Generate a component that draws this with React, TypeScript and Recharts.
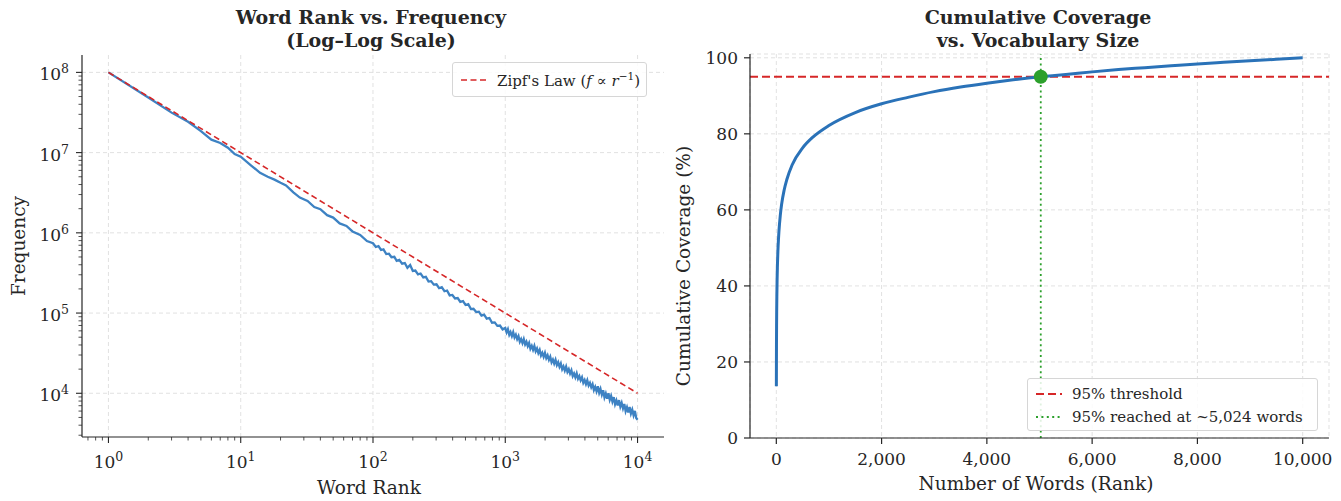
import React from "react";
import { LineChart, Line, XAxis, YAxis, CartesianGrid, ReferenceLine, ReferenceDot } from "recharts";

const FONT = "'DejaVu Serif', serif";
const INK = "#262626";
const GRID = "#dedede";

const wordRanks = [
  1, 2, 3, 4, 5, 6, 7, 8, 9, 10, 12, 14, 16, 18, 20, 22, 25, 28, 32, 36, 40, 45, 50, 56, 63, 70, 80, 90,
  100, 105, 110, 115, 120, 126, 132, 138, 145, 151, 158, 166, 174, 182, 191, 200, 209, 219, 229, 240,
  251, 263, 275, 288, 302, 316, 331, 347, 363, 380, 398, 417, 437, 457, 479, 501, 525, 550, 575, 603,
  631, 661, 692, 724, 759, 794, 832, 871, 912, 955,
  1000, 1023, 1047, 1072, 1096, 1122, 1148, 1175, 1202, 1230, 1259, 1288, 1318, 1349, 1380, 1413, 1445,
  1479, 1514, 1549, 1585, 1622, 1660, 1698, 1738, 1778, 1820, 1862, 1905, 1950, 1995, 2042, 2089, 2138,
  2188, 2239, 2291, 2344, 2399, 2455, 2512, 2570, 2630, 2692, 2754, 2818, 2884, 2951, 3020, 3090, 3162,
  3236, 3311, 3388, 3467, 3548, 3631, 3715, 3802, 3890, 3981, 4074, 4169, 4266, 4365, 4467, 4571, 4677,
  4786, 4898, 5012, 5129, 5248, 5370, 5495, 5623, 5754, 5888, 6026, 6166, 6310, 6457, 6607, 6761, 6918,
  7079, 7244, 7413, 7586, 7762, 7943, 8128, 8318, 8511, 8710, 8913, 9120, 9333, 9550, 9772, 10000,
];
const observedFreq = [
  1.0e8, 4.85e7, 3.15e7, 2.42e7, 1.85e7, 1.45e7, 1.32e7, 1.15e7, 9.6e6, 8.9e6, 6.9e6, 5.6e6, 5.0e6, 4.6e6,
  4.2e6, 3.9e6, 3.2e6, 2.75e6, 2.5e6, 2.1e6, 1.97e6, 1.66e6, 1.55e6, 1.31e6, 1.22e6, 1.04e6, 9.4e5, 7.9e5,
  7.41e5, 6.66e5, 6.84e5, 6.11e5, 6.23e5, 5.43e5, 5.49e5, 4.97e5, 5.02e5, 4.49e5, 4.61e5, 4.12e5, 4.2e5,
  3.66e5, 3.98e5, 3.35e5, 3.39e5, 3.03e5, 3.11e5, 2.78e5, 2.83e5, 2.47e5, 2.5e5, 2.26e5, 2.28e5, 2.04e5,
  2.1e5, 1.87e5, 1.91e5, 1.66e5, 1.68e5, 1.52e5, 1.54e5, 1.38e5, 1.41e5, 1.26e5, 1.29e5, 1.12e5, 1.13e5,
  1.03e5, 1.04e5, 9.28e4, 9.53e4, 8.51e4, 8.68e4, 7.57e4, 7.65e4, 6.92e4, 6.99e4, 6.26e4,
  6.53e4, 5.74e4, 6.29e4, 5.35e4, 5.78e4, 5.15e4, 5.77e4, 4.96e4, 5.36e4, 4.72e4, 5.16e4, 4.39e4, 4.75e4,
  4.23e4, 4.73e4, 4.07e4, 4.4e4, 3.87e4, 4.24e4, 3.6e4, 3.9e4, 3.47e4, 3.89e4, 3.34e4, 3.62e4, 3.18e4,
  3.48e4, 2.96e4, 3.2e4, 2.85e4, 3.19e4, 2.74e4, 2.97e4, 2.61e4, 2.86e4, 2.43e4, 2.63e4, 2.34e4, 2.62e4,
  2.25e4, 2.44e4, 2.14e4, 2.35e4, 1.99e4, 2.16e4, 1.92e4, 2.15e4, 1.85e4, 2.0e4, 1.76e4, 1.93e4, 1.64e4,
  1.77e4, 1.58e4, 1.77e4, 1.52e4, 1.64e4, 1.45e4, 1.58e4, 1.35e4, 1.46e4, 1.3e4, 1.45e4, 1.25e4, 1.35e4,
  1.19e4, 1.3e4, 1.1e4, 1.2e4, 1.06e4, 1.22e4, 1.01e4, 1.13e4, 9.61e3, 1.09e4, 8.88e3, 9.93e3, 8.57e3,
  1.0e4, 8.29e3, 9.27e3, 7.89e3, 8.95e3, 7.29e3, 8.15e3, 7.04e3, 8.22e3, 6.81e3, 7.61e3, 6.48e3, 7.35e3,
  5.99e3, 6.69e3, 5.78e3, 6.75e3, 5.59e3, 6.25e3, 5.32e3, 6.03e3, 4.92e3, 4.68e3,
];
const zipfRanks = [1, 10000];
const zipfFreq = [1e8, 1e4];

const rankTicks = [1, 10, 100, 1000, 10000];
const freqTicks = [1e4, 1e5, 1e6, 1e7, 1e8];
const rankDomain = [0.631, 15849];
const freqDomain = [2851, 1.647e8];

// right panel: cumulative coverage curve
const coverageRanks = [
  1, 2, 3, 5, 7, 10, 15, 20, 30, 40, 50, 75, 100, 150, 200, 300, 500, 700, 1000, 1500, 2000, 2500, 3000,
  3500, 4000, 4500, 5024, 5500, 6000, 6500, 7000, 7500, 8000, 8500, 9000, 9500, 10000,
];
const coveragePct = [
  13.6, 20.0, 24.2, 29.7, 33.4, 37.3, 41.7, 44.8, 49.1, 52.1, 54.4, 58.5, 61.4, 65.3, 68.0, 71.8, 76.3,
  79.2, 82.2, 85.6, 87.9, 89.6, 91.1, 92.3, 93.3, 94.2, 95.0, 95.6, 96.3, 96.9, 97.4, 97.9, 98.4, 98.8,
  99.2, 99.6, 100,
];
const thresholdPct = 95;
const reachedAt = 5024;
const vocabTicks = [0, 2000, 4000, 6000, 8000, 10000];
const coverageTicks = [0, 20, 40, 60, 80, 100];

const observedRows = wordRanks.map((r, i) => ({ rank: r, freq: observedFreq[i] }));
const zipfRows = zipfRanks.map((r, i) => ({ rank: r, zipf: zipfFreq[i] }));
const coverageRows = coverageRanks.map((r, i) => ({ rank: r, pct: coveragePct[i] }));

// majors plus 2..9 minors inside a domain
function logTicks(lo: number, hi: number) {
  const out: number[] = [];
  for (let d = Math.floor(Math.log10(lo)); d <= Math.ceil(Math.log10(hi)); d++) {
    for (let m = 1; m <= 9; m++) {
      const v = m * Math.pow(10, d);
      if (v >= lo && v <= hi) out.push(v);
    }
  }
  return out;
}

const TICK_FS = 17;

const Pow10 = ({ x, y, exp, anchor }: any) => (
  <text x={x} y={y} textAnchor={anchor} fontFamily={FONT} fontSize={TICK_FS} fill={INK}>
    <tspan>10</tspan>
    <tspan dy={-7} fontSize={12.5}>{exp}</tspan>
  </text>
);

const XLogTick = ({ x, y, payload }: any) => {
  const v = payload.value;
  const major = rankTicks.includes(v);
  return (
    <g>
      <line x1={x} y1={y} x2={x} y2={y + (major ? 6 : 3.5)} stroke={INK} strokeWidth={major ? 1.1 : 0.8} />
      {major && <Pow10 x={x} y={y + 31} exp={Math.round(Math.log10(v))} anchor="middle" />}
    </g>
  );
};

const YLogTick = ({ x, y, payload }: any) => {
  const v = payload.value;
  const major = freqTicks.includes(v);
  return (
    <g>
      <line x1={x} y1={y} x2={x - (major ? 6 : 3.5)} y2={y} stroke={INK} strokeWidth={major ? 1.1 : 0.8} />
      {major && <Pow10 x={x - 13} y={y + 8} exp={Math.round(Math.log10(v))} anchor="end" />}
    </g>
  );
};

const abs = (left: number, top: number, extra: React.CSSProperties = {}): React.CSSProperties => ({
  position: "absolute",
  left,
  top,
  fontFamily: FONT,
  color: INK,
  whiteSpace: "nowrap",
  ...extra,
});

function Title({ cx, lines }: { cx: number; lines: string[] }) {
  return (
    <div style={abs(cx - 250, 6, { width: 500, textAlign: "center", fontWeight: "bold", fontSize: 19, lineHeight: "22.5px" })}>
      {lines.map((l) => (
        <div key={l}>{l}</div>
      ))}
    </div>
  );
}

function VLabel({ cx, cy, text }: { cx: number; cy: number; text: string }) {
  return (
    <div
      style={abs(cx - 150, cy - 10, {
        width: 300,
        height: 20,
        lineHeight: "20px",
        textAlign: "center",
        fontSize: 18.5,
        transform: "rotate(-90deg)",
      })}
    >
      {text}
    </div>
  );
}

function HLabel({ cx, cy, text }: { cx: number; cy: number; text: string }) {
  return (
    <div style={abs(cx - 200, cy - 10, { width: 400, height: 20, lineHeight: "20px", textAlign: "center", fontSize: 18.5 })}>
      {text}
    </div>
  );
}

const legendBox: React.CSSProperties = {
  border: "1px solid #d6d6d6",
  borderRadius: 3,
  background: "rgba(255,255,255,0.85)",
  fontSize: 15,
  boxSizing: "border-box",
};

function Swatch({ color, dash, width }: { color: string; dash: string; width: number }) {
  return (
    <svg width={28} height={10} style={{ marginRight: 9, flex: "none" }}>
      <line x1={1} y1={5} x2={27} y2={5} stroke={color} strokeWidth={width} strokeDasharray={dash} />
    </svg>
  );
}

export default function App() {
  const xMinor = logTicks(rankDomain[0], rankDomain[1]);
  const yMinor = logTicks(freqDomain[0], freqDomain[1]);

  return (
    <div style={{ position: "fixed", left: 0, top: 0, width: 1341, height: 501, background: "#fff", overflow: "hidden" }}>
      {/* left: rank vs frequency */}
      <div style={{ position: "absolute", left: 0, top: 0 }}>
        <LineChart width={670} height={501} margin={{ top: 55, right: 6, bottom: 0, left: 0 }}>
          <XAxis
            dataKey="rank"
            type="number"
            scale="log"
            domain={rankDomain}
            allowDataOverflow
            ticks={xMinor}
            interval={0}
            tick={<XLogTick />}
            tickLine={false}
            tickSize={0}
            tickMargin={0}
            height={64}
            stroke={INK}
            strokeWidth={1.2}
          />
          <YAxis
            type="number"
            scale="log"
            domain={freqDomain}
            allowDataOverflow
            ticks={yMinor}
            interval={0}
            tick={<YLogTick />}
            tickLine={false}
            tickSize={0}
            tickMargin={0}
            width={82}
            stroke={INK}
            strokeWidth={1.2}
          />
          {rankTicks.map((t) => (
            <ReferenceLine key={"gx" + t} x={t} stroke={GRID} strokeDasharray="4 3" strokeWidth={0.9} />
          ))}
          {freqTicks.map((t) => (
            <ReferenceLine key={"gy" + t} y={t} stroke={GRID} strokeDasharray="4 3" strokeWidth={0.9} />
          ))}
          <Line
            data={observedRows}
            dataKey="freq"
            type="linear"
            stroke="#3d82c3"
            strokeWidth={2.3}
            dot={false}
            isAnimationActive={false}
          />
          <Line
            data={zipfRows}
            dataKey="zipf"
            type="linear"
            stroke="#d62728"
            strokeWidth={1.6}
            strokeDasharray="6 3.5"
            dot={false}
            isAnimationActive={false}
          />
        </LineChart>
      </div>
      <Title cx={371} lines={["Word Rank vs. Frequency", "(Log\u2013Log Scale)"]} />
      <VLabel cx={19} cy={246} text="Frequency" />
      <HLabel cx={369} cy={488} text="Word Rank" />
      <div style={abs(452, 62, { ...legendBox, width: 195, height: 35, display: "flex", alignItems: "center", paddingLeft: 7 })}>
        <Swatch color="#d62728" dash="6 3.5" width={1.6} />
        <span>
          Zipf's Law (<i>f</i> ∝ <i>r</i>
          <sup style={{ fontSize: 10.5 }}>−1</sup>)
        </span>
      </div>

      {/* right: cumulative coverage */}
      <div style={{ position: "absolute", left: 670, top: 0 }}>
        <LineChart width={671} height={501} data={coverageRows} margin={{ top: 54, right: 12, bottom: 0, left: 0 }}>
          <CartesianGrid stroke={GRID} strokeDasharray="4 3" strokeWidth={0.9} />
          <XAxis
            dataKey="rank"
            type="number"
            domain={[-500, 10500]}
            ticks={vocabTicks}
            interval={0}
            tickFormatter={(v: number) => v.toLocaleString("en-US")}
            tick={{ fill: INK, fontSize: TICK_FS, fontFamily: FONT }}
            tickSize={6}
            tickMargin={9}
            height={63}
            stroke={INK}
            strokeWidth={1.2}
          />
          <YAxis
            type="number"
            domain={[0, 101]}
            ticks={coverageTicks}
            interval={0}
            tick={{ fill: INK, fontSize: TICK_FS, fontFamily: FONT }}
            tickSize={6}
            tickMargin={6}
            width={80}
            stroke={INK}
            strokeWidth={1.2}
          />
          <ReferenceLine y={thresholdPct} stroke="#d62728" strokeWidth={2} strokeDasharray="8 4" />
          <ReferenceLine x={reachedAt} stroke="#2ca02c" strokeWidth={1.8} strokeDasharray="2 3.4" />
          <Line
            dataKey="pct"
            type="monotone"
            stroke="#2a72b8"
            strokeWidth={3}
            dot={false}
            isAnimationActive={false}
          />
          <ReferenceDot x={reachedAt} y={thresholdPct} r={7} fill="#2ca02c" stroke="none" />
        </LineChart>
      </div>
      <Title cx={1038} lines={["Cumulative Coverage", "vs. Vocabulary Size"]} />
      <VLabel cx={684} cy={266} text="Cumulative Coverage (%)" />
      <HLabel cx={1036} cy={484} text="Number of Words (Rank)" />
      <div style={abs(1027, 378, { ...legendBox, width: 291, height: 53, padding: "3px 0 0 7px" })}>
        <div style={{ display: "flex", alignItems: "center", height: 23 }}>
          <Swatch color="#d62728" dash="8 4" width={2} />
          <span>95% threshold</span>
        </div>
        <div style={{ display: "flex", alignItems: "center", height: 23 }}>
          <Swatch color="#2ca02c" dash="2 3.4" width={1.8} />
          <span>95% reached at ~5,024 words</span>
        </div>
      </div>
    </div>
  );
}
